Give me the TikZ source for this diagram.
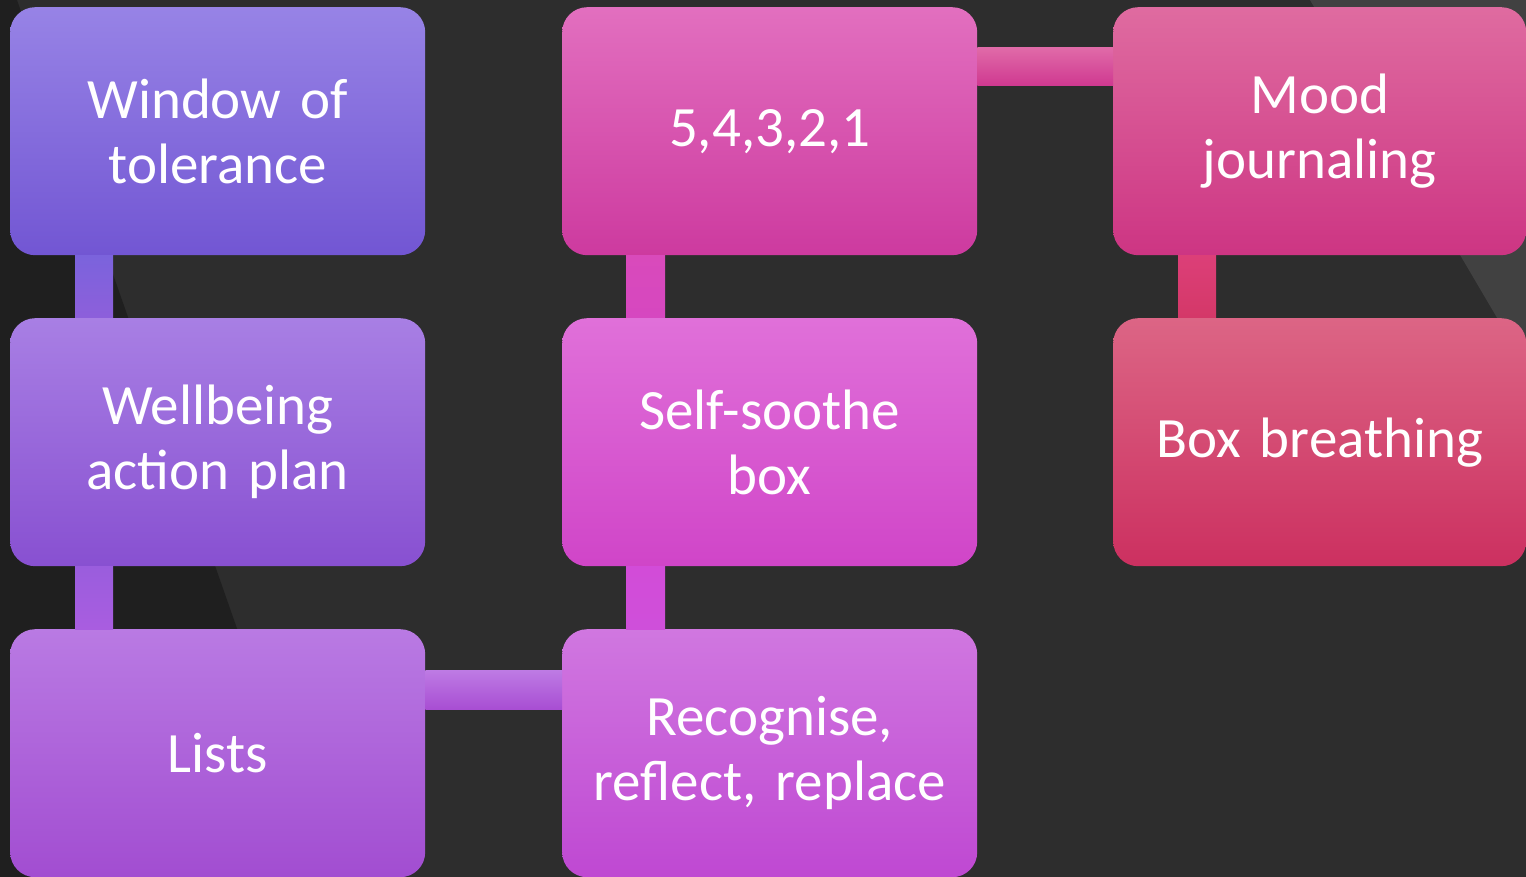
\documentclass[tikz,border=0pt]{standalone}
\usepackage{fontspec}
\setmainfont[WordSpace=0.75]{Carlito}
\definecolor{bgmain}{HTML}{2D2D2D}
\definecolor{bgdark}{HTML}{1F1F1F}
\definecolor{bglight}{HTML}{414141}
\definecolor{aT}{HTML}{9783E6}\definecolor{aB}{HTML}{7256D3}
\definecolor{bT}{HTML}{A87FE4}\definecolor{bB}{HTML}{8850D1}
\definecolor{cT}{HTML}{B97AE3}\definecolor{cB}{HTML}{A24DD1}
\definecolor{dT}{HTML}{E26FBF}\definecolor{dB}{HTML}{CD3A9F}
\definecolor{eT}{HTML}{E070D9}\definecolor{eB}{HTML}{D045C8}
\definecolor{fT}{HTML}{D077E0}\definecolor{fB}{HTML}{BF48D2}
\definecolor{gT}{HTML}{DF6BA0}\definecolor{gB}{HTML}{CD3583}
\definecolor{hT}{HTML}{DC6585}\definecolor{hB}{HTML}{CC3060}
\definecolor{k1T}{HTML}{7B63DC}\definecolor{k1B}{HTML}{8D5FDB}
\definecolor{k2T}{HTML}{9A5DDD}\definecolor{k2B}{HTML}{A95DE0}
\definecolor{k3T}{HTML}{D94ABB}\definecolor{k3B}{HTML}{D647C0}
\definecolor{k4T}{HTML}{D24CD8}\definecolor{k4B}{HTML}{CF4FDA}
\definecolor{k5T}{HTML}{DC3F78}\definecolor{k5B}{HTML}{D43868}
\definecolor{k6T}{HTML}{E06AA8}\definecolor{k6B}{HTML}{CF3890}
\definecolor{k7T}{HTML}{BE7BE4}\definecolor{k7B}{HTML}{A84ED3}
\tikzset{
  card/.style={rectangle, rounded corners=25pt, minimum width=415pt, minimum height=248pt,
    inner sep=0pt, text width=390pt, align=center, text=white,
    font=\fontsize{57}{65}\selectfont, anchor=north west},
  link/.style={draw=none}
}
\begin{document}
\begin{tikzpicture}[x=1pt,y=-1pt]
\useasboundingbox (0,0) rectangle (1526,877);
\fill[bgmain] (0,0) rectangle (1526,877);
\fill[bgdark] (0,0) -- (17,0) -- (324,877) -- (0,877) -- cycle;
\fill[bglight] (1310,0) -- (1526,0) -- (1526,367) -- cycle;

\node[card, top color=aT, bottom color=aB] (win) at (10,7) {Window of\\tolerance};
\node[card, top color=bT, bottom color=bB] (well) at (10,318) {Wellbeing\\action plan};
\node[card, top color=cT, bottom color=cB] (lists) at (10,629) {Lists};
\node[card, top color=dT, bottom color=dB] (five) at (562,7) {5,4,3,2,1};
\node[card, top color=eT, bottom color=eB] (soothe) at (562,318) {Self-soothe\\box};
\node[card, top color=fT, bottom color=fB] (recog) at (562,629) {Recognise,\\reflect, replace};
\node[card, minimum width=413pt, top color=gT, bottom color=gB] (mood) at (1113,7) {Mood\\journaling};
\node[card, minimum width=413pt, top color=hT, bottom color=hB] (breath) at (1113,318) {Box breathing};

% connectors
\path[link, top color=k1T, bottom color=k1B]
  ([xshift=65pt]win.south west) rectangle ([xshift=103pt]well.north west);
\path[link, top color=k2T, bottom color=k2B]
  ([xshift=65pt]well.south west) rectangle ([xshift=103pt]lists.north west);
\path[link, top color=k3T, bottom color=k3B]
  ([xshift=64pt]five.south west) rectangle ([xshift=103pt]soothe.north west);
\path[link, top color=k4T, bottom color=k4B]
  ([xshift=64pt]soothe.south west) rectangle ([xshift=103pt]recog.north west);
\path[link, top color=k5T, bottom color=k5B]
  ([xshift=65pt]mood.south west) rectangle ([xshift=103pt]breath.north west);
\path[link, top color=k6T, bottom color=k6B]
  ([yshift=-41pt]five.north east) rectangle ([yshift=-79pt]mood.north west);
\path[link, top color=k7T, bottom color=k7B]
  ([yshift=-41pt]lists.north east) rectangle ([yshift=-80pt]recog.north west);
\end{tikzpicture}
\end{document}
